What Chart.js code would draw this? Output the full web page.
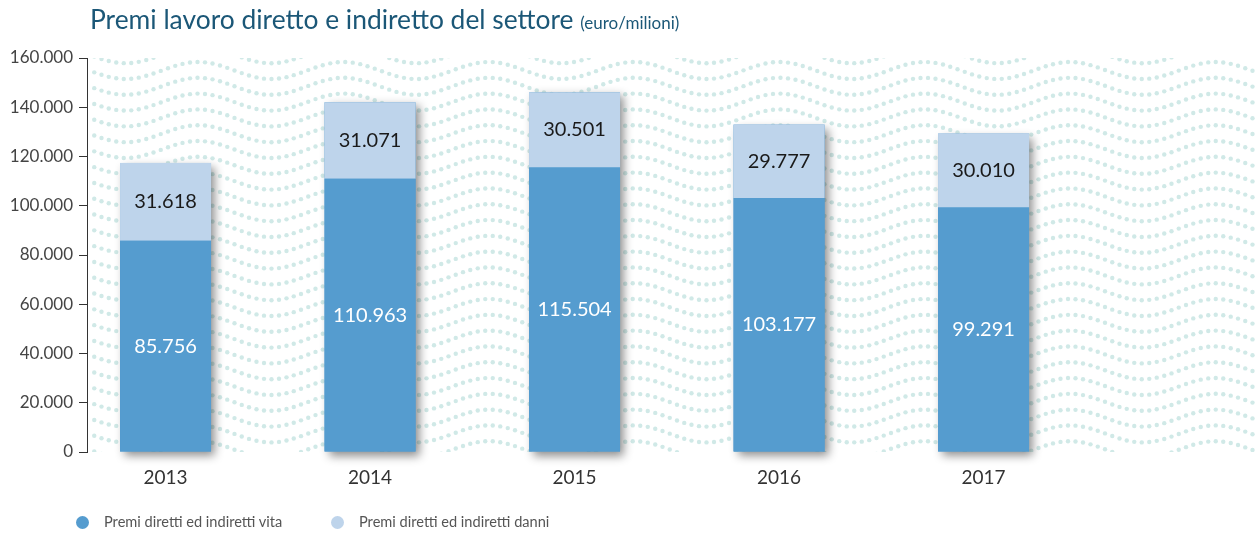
<!DOCTYPE html>
<html>
<head>
<meta charset="utf-8">
<script src="https://cdn.jsdelivr.net/npm/chart.js@4/dist/chart.umd.min.js"></script>
<style>
  body { margin: 0; background: #fff; font-family: Lato, sans-serif; }
  #wrap { position: relative; width: 1258px; height: 533px; }
  #titolo { position: absolute; left: 90px; top: 3px; color: #1b5777; font-size: 26.4px; white-space: nowrap; }
  #titolo small { font-size: 17px; }
  #legenda { position: absolute; left: 76px; top: 513px; font-size: 14.6px; color: #555; }
  #legenda span.item { position: absolute; white-space: nowrap; top: 0; }
  #legenda span.dot { position: absolute; top: 3px; width: 13px; height: 13px; border-radius: 50%; }
</style>
</head>
<body>
<div id="wrap">
  <canvas id="grafico" width="1258" height="533"></canvas>
  <div id="titolo">Premi lavoro diretto e indiretto del settore <small>(euro/milioni)</small></div>
  <div id="legenda"></div>
</div>
<script>
var anni = ['2013', '2014', '2015', '2016', '2017'];
var premiVita = [85756, 110963, 115504, 103177, 99291];
var premiDanni = [31618, 31071, 30501, 29777, 30010];
var etichette = ['Premi diretti ed indiretti vita', 'Premi diretti ed indiretti danni'];
var colori = ['#559ccf', '#bed4eb'];

function formatta(n) {
  return String(n).replace(/\B(?=(\d{3})+(?!\d))/g, '.');
}

// sfondo a puntini ondulati
var sfondo = {
  id: 'sfondo',
  beforeDatasetsDraw: function(chart) {
    var ctx = chart.ctx, a = chart.chartArea;
    ctx.save();
    ctx.beginPath();
    ctx.rect(a.left + 1, a.top, a.right - a.left, a.bottom - a.top);
    ctx.clip();
    ctx.fillStyle = '#d0e9e7';
    var periodo = 145.3, amp = 8.5;
    for (var k = -2; k < 28; k++) {
      var base = 62 + amp + k * 15.8;
      var dist = 0, px = a.left, py = base - amp * Math.cos(2 * Math.PI * (a.left - 1070) / periodo);
      for (var x = a.left; x <= a.right; x += 0.25) {
        var y = base - amp * Math.cos(2 * Math.PI * (x - 1070) / periodo);
        dist += Math.hypot(x - px, y - py);
        px = x; py = y;
        if (dist >= 7.5) {
          dist = 0;
          ctx.beginPath();
          ctx.arc(x, y, 2.2, 0, Math.PI * 2);
          ctx.fill();
        }
      }
    }
    ctx.restore();

    // ombra delle colonne
    var m0 = chart.getDatasetMeta(0).data, m1 = chart.getDatasetMeta(1).data;
    ctx.save();
    ctx.shadowColor = 'rgba(0,0,0,0.45)';
    ctx.shadowBlur = 9;
    ctx.shadowOffsetX = 4;
    ctx.shadowOffsetY = 4;
    ctx.fillStyle = colori[0];
    for (var i = 0; i < m0.length; i++) {
      var w = m0[i].width;
      ctx.fillRect(m0[i].x - w / 2, m1[i].y, w, m0[i].base - m1[i].y);
    }
    ctx.restore();
  }
};

var valori = {
  id: 'valori',
  afterDatasetsDraw: function(chart) {
    var ctx = chart.ctx;
    ctx.save();
    ctx.font = '20px Lato';
    ctx.textAlign = 'center';
    ctx.textBaseline = 'middle';
    chart.data.datasets.forEach(function(ds, d) {
      ctx.fillStyle = d == 0 ? '#ffffff' : '#1a1a1a';
      chart.getDatasetMeta(d).data.forEach(function(el, i) {
        ctx.fillText(formatta(ds.data[i].y), el.x, (el.y + el.base) / 2);
      });
    });
    ctx.restore();
  }
};

var ctx = document.getElementById('grafico');
new Chart(ctx, {
  type: 'bar',
  data: {
    datasets: [{
      label: etichette[0],
      data: premiVita.map(function(v, i) { return { x: i, y: v }; }),
      backgroundColor: colori[0],
      barPercentage: 0.445,
      categoryPercentage: 1
    }, {
      label: etichette[1],
      data: premiDanni.map(function(v, i) { return { x: i, y: v }; }),
      backgroundColor: colori[1],
      barPercentage: 0.445,
      categoryPercentage: 1
    }]
  },
  options: {
    responsive: false,
    animation: false,
    layout: { padding: { top: 58, left: 0, right: 0, bottom: 0 } },
    plugins: { legend: { display: false }, tooltip: { enabled: false } },
    scales: {
      x: {
        type: 'linear',
        stacked: true,
        offset: false,
        min: -0.384,
        max: 5.342,
        grid: { display: false, drawTicks: false },
        border: { display: false },
        afterFit: function(s) { s.height = 81; },
        afterBuildTicks: function(s) {
          s.ticks = anni.map(function(a, i) { return { value: i }; });
        },
        ticks: {
          autoSkip: false,
          maxRotation: 0,
          padding: 14,
          color: '#333',
          font: { family: 'Lato', size: 19 },
          callback: function(v) { return anni[v]; }
        }
      },
      y: {
        stacked: true,
        min: 0,
        max: 160000,
        afterFit: function(s) { s.width = 87; },
        grid: { drawOnChartArea: false, tickLength: 8, color: '#333' },
        border: { display: true, color: '#333' },
        ticks: {
          stepSize: 20000,
          padding: 6,
          color: '#444',
          font: { family: 'Lato', size: 17 },
          callback: function(v) { return formatta(v); }
        }
      }
    }
  },
  plugins: [sfondo, valori]
});

var leg = document.getElementById('legenda');
var posX = [0, 255];
etichette.forEach(function(t, i) {
  leg.innerHTML += '<span class="dot" style="left:' + posX[i] + 'px;background:' + colori[i] + '"></span>' +
    '<span class="item" style="left:' + (posX[i] + 28) + 'px">' + t + '</span>';
});
</script>
</body>
</html>
